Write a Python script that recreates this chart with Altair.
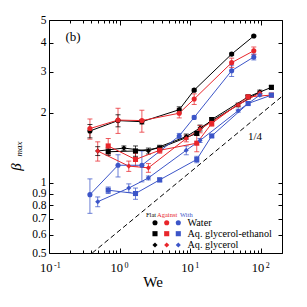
import altair as alt
import pandas as pd

W, H = 233, 233

cond_names = ["Flat", "Against", "With"]
cond_colors = ["#000000", "#e8262b", "#3c55c8"]
fluid_names = ["Water", "Aq. glycerol-ethanol", "Aq. glycerol"]
fluid_shapes = ["circle", "square", "diamond"]
fluid_sizes = [26, 26, 28]

# Water (circles)
we_water = [0.38, 0.95, 2.07, 7.0, 11.4, 38.7, 79.7]
beta_water_flat = [1.67, 1.85, 1.83, 2.06, 2.50, 3.57, 4.27]
err_water_flat = [0.11, 0.11, 0.04, 0.06, 0.03, 0.04, 0.03]
beta_water_against = [1.71, 1.86, 1.85, 1.99, 2.29, 3.28, 3.69]
err_water_against = [0.17, 0.23, 0.20, 0.09, 0.12, 0.15, 0.14]
beta_water_with = [0.89, 1.19, 1.19, 1.59, 1.91, 3.03, 3.47]
err_water_with = [0.15, 0.13, 0.18, 0.04, 0.03, 0.17, 0.10]

# Aq. glycerol-ethanol (squares)
we_ge = [0.69, 1.68, 3.7, 12.4, 20.2, 66.2, 141.5]
beta_ge_flat = [1.36, 1.37, 1.41, 1.63, 1.87, 2.34, 2.57]
err_ge_flat = [0.05, 0.07, 0.04, 0.03, 0.03, 0.03, 0.05]
beta_ge_against = [1.44, 1.26, 1.38, 1.48, 1.80, 2.34, 2.38]
err_ge_against = [0.11, 0.08, 0.04, 0.12, 0.05, 0.03, 0.03]
beta_ge_with = [0.93, 0.90, 1.03, 1.26, 1.59, 2.19, 2.38]
err_ge_with = [0.03, 0.05, 0.02, 0.04, 0.02, 0.03, 0.04]

# Aq. glycerol (diamonds)
we_g_flat = [0.49, 1.15, 2.56, 8.8, 13.8, 47.9, 96.9]
we_g = [0.49, 1.35, 2.56, 8.8, 13.8, 47.9, 96.9]
beta_g_flat = [1.37, 1.41, 1.37, 1.58, 1.72, 2.16, 2.46]
err_g_flat = [0.06, 0.03, 0.04, 0.04, 0.05, 0.04, 0.04]
beta_g_against = [1.37, 1.18, 1.16, 1.55, 1.70, 2.16, 2.43]
err_g_against = [0.13, 0.06, 0.05, 0.05, 0.06, 0.03, 0.04]
beta_g_with = [0.83, 0.95, 1.05, 1.38, 1.52, 2.04, 2.38]
err_g_with = [0.04, 0.04, 0.02, 0.06, 0.03, 0.03, 0.03]

# slope 1/4 guide line
guide_we = [0.41, 200]
guide_beta = [0.5, 2.35]

x_ticks = [0.1, 0.2, 0.3, 0.4, 0.5, 0.6, 0.7, 0.8, 0.9,
           1, 2, 3, 4, 5, 6, 7, 8, 9,
           10, 20, 30, 40, 50, 60, 70, 80, 90,
           100, 200]
y_ticks = [0.5, 0.6, 0.7, 0.8, 0.9, 1, 2, 3, 4, 5]
decades = [0.1, 1, 10, 100]
decade_exp = ["-1", "0", "1", "2"]

series = [
    ("Water", "Flat", we_water, beta_water_flat, err_water_flat),
    ("Aq. glycerol-ethanol", "Flat", we_ge, beta_ge_flat, err_ge_flat),
    ("Aq. glycerol", "Flat", we_g_flat, beta_g_flat, err_g_flat),
    ("Water", "Against", we_water, beta_water_against, err_water_against),
    ("Aq. glycerol-ethanol", "Against", we_ge, beta_ge_against, err_ge_against),
    ("Aq. glycerol", "Against", we_g, beta_g_against, err_g_against),
    ("Water", "With", we_water, beta_water_with, err_water_with),
    ("Aq. glycerol-ethanol", "With", we_ge, beta_ge_with, err_ge_with),
    ("Aq. glycerol", "With", we_g, beta_g_with, err_g_with),
]
rows = []
for k, (fluid, cond, we, b, e) in enumerate(series):
    for w, bb, ee in zip(we, b, e):
        rows.append(dict(fluid=fluid, cond=cond, series=f"{fluid}|{cond}", k=k,
                         We=w, beta=bb, lo=bb - ee, hi=bb + ee))
df = pd.DataFrame(rows)
guide_df = pd.DataFrame({"We": guide_we, "beta": guide_beta})

xs = alt.Scale(type="log", domain=[0.1, 200], nice=False)
ys = alt.Scale(type="log", domain=[0.5, 5], nice=False)
cs = alt.Scale(domain=cond_names, range=cond_colors)
SERIF = "Liberation Serif"

major_test = "abs(log(datum.value)/LN10 - round(log(datum.value)/LN10)) < 0.001"


def tick_axis(orient, values, size):
    return alt.Axis(orient=orient, offset=-W, values=values, labels=False,
                    domain=False, grid=False, ticks=True, tickSize=size,
                    tickColor="black", tickWidth=1, title=None)


xmaj = {"condition": {"test": major_test, "value": 5}, "value": 3}

# guide line, carrying inward ticks on bottom and left edges
guide = alt.Chart(guide_df).mark_line(color="black", strokeWidth=1,
                                       strokeDash=[5, 3], clip=True).encode(
    x=alt.X("We:Q", scale=xs, axis=tick_axis("top", x_ticks, xmaj)),
    y=alt.Y("beta:Q", scale=ys, axis=tick_axis("right", y_ticks, 4)),
)

# error bars, carrying inward ticks on top and right edges
err = alt.Chart(df).mark_rule(strokeWidth=1, opacity=0.75).encode(
    x=alt.X("We:Q", scale=xs, axis=tick_axis("bottom", x_ticks, xmaj)),
    y=alt.Y("lo:Q", scale=ys, axis=tick_axis("left", y_ticks, 4)),
    y2="hi:Q",
    color=alt.Color("cond:N", scale=cs, legend=None),
)
cap_lo = alt.Chart(df).mark_tick(orient="horizontal", size=5, thickness=1, opacity=0.75).encode(
    x=alt.X("We:Q", scale=xs, axis=None),
    y=alt.Y("lo:Q", scale=ys, axis=None),
    color=alt.Color("cond:N", scale=cs, legend=None),
)
cap_hi = alt.Chart(df).mark_tick(orient="horizontal", size=5, thickness=1, opacity=0.75).encode(
    x=alt.X("We:Q", scale=xs, axis=None),
    y=alt.Y("hi:Q", scale=ys, axis=None),
    color=alt.Color("cond:N", scale=cs, legend=None),
)

lines = alt.Chart(df).mark_line(strokeWidth=1).encode(
    x=alt.X("We:Q", scale=xs, axis=None),
    y=alt.Y("beta:Q", scale=ys, axis=alt.Axis(
        orient="left", values=y_ticks, ticks=False, tickSize=0, domain=False,
        grid=False, labelFont=SERIF, labelFontSize=11.5, labelColor="black",
        labelPadding=3, labelOverlap=False, title=None,
        labelExpr="datum.value < 1 ? format(datum.value, '.1f') : format(datum.value, 'd')")),
    color=alt.Color("cond:N", scale=cs, legend=None),
    detail="series:N",
)

points = alt.Chart(df).mark_point(filled=True, opacity=1).encode(
    x=alt.X("We:Q", scale=xs, axis=None),
    y=alt.Y("beta:Q", scale=ys, axis=None),
    color=alt.Color("cond:N", scale=cs, legend=None),
    shape=alt.Shape("fluid:N", scale=alt.Scale(domain=fluid_names, range=fluid_shapes), legend=None),
    size=alt.Size("fluid:N", scale=alt.Scale(domain=fluid_names, range=fluid_sizes), legend=None),
    order=alt.Order("k:Q"),
)

# x tick labels 10^n
dec_df = pd.DataFrame({"We": decades, "base": ["10"] * 4, "exp": decade_exp})
xlab_base = alt.Chart(dec_df).mark_text(font=SERIF, fontSize=12.5, align="right",
                                         baseline="alphabetic", dx=3.5, color="black").encode(
    x=alt.X("We:Q", scale=xs, axis=None), y=alt.value(H + 19), text="base:N")
xlab_exp = alt.Chart(dec_df).mark_text(font=SERIF, fontSize=8, align="left",
                                        baseline="alphabetic", dx=5, color="black").encode(
    x=alt.X("We:Q", scale=xs, axis=None), y=alt.value(H + 14.5), text="exp:N")


def label(txt, x, y, size, **kw):
    return alt.Chart(pd.DataFrame({"t": [txt]})).mark_text(
        font=SERIF, fontSize=size, color=kw.pop("color", "black"), **kw).encode(
        x=alt.value(x), y=alt.value(y), text="t:N")


xtitle = label("We", 104, H + 34, 15, align="center", baseline="alphabetic", fontWeight="normal")
ytitle_b = label("β", -33, 147, 15, angle=270, fontStyle="italic", align="center", baseline="middle")
ytitle_s = label("max", -30, 129, 9, angle=270, fontStyle="italic", align="center", baseline="middle")
panel = label("(b)", 24, 17, 13, align="center", baseline="middle", fontWeight="normal")
slope = label("1/4", 206, 117, 11, align="center", baseline="middle")

# legend
hdr_text = ["Flat", "Against", "With"]
hdr_x = [97, 108, 131]
leg_mx = [106, 117.7, 129.3]
leg_my = [202.7, 213.7, 225]
hdr = alt.layer(*[
    label(t, x, 196.5, 6.5, align="left", baseline="alphabetic", color=c)
    for t, x, c in zip(hdr_text, hdr_x, cond_colors)])
leg_rows = []
for i, f in enumerate(fluid_names):
    for j, c in enumerate(cond_names):
        leg_rows.append(dict(fluid=f, cond=c, px=leg_mx[j], py=leg_my[i]))
leg_df = pd.DataFrame(leg_rows)
leg_pts = alt.Chart(leg_df).mark_point(filled=True, opacity=1).encode(
    x=alt.X("px:Q", scale=None, axis=None),
    y=alt.Y("py:Q", scale=None, axis=None),
    color=alt.Color("cond:N", scale=cs, legend=None),
    shape=alt.Shape("fluid:N", scale=alt.Scale(domain=fluid_names, range=fluid_shapes), legend=None),
    size=alt.Size("fluid:N", scale=alt.Scale(domain=fluid_names, range=[52, 48, 40]), legend=None),
)
leg_txt_df = pd.DataFrame({"t": fluid_names, "py": leg_my})
leg_txt = alt.Chart(leg_txt_df).mark_text(font=SERIF, fontSize=10.2, align="left",
                                          baseline="middle", color="black").encode(
    x=alt.value(138.5), y=alt.Y("py:Q", scale=None, axis=None), text="t:N")

chart = alt.layer(
    guide, err, cap_lo, cap_hi, lines, points,
    xlab_base, xlab_exp, xtitle, ytitle_b, ytitle_s, panel, slope,
    hdr, leg_pts, leg_txt,
).resolve_axis(x="independent", y="independent").properties(
    width=W, height=H,
    padding={"left": 41, "top": 12, "right": 17, "bottom": 40},
    autosize=alt.AutoSizeParams(type="none"),
).configure_view(stroke="black", strokeWidth=1)

chart.save("out.html", embed_options={"renderer": "svg", "actions": False})
